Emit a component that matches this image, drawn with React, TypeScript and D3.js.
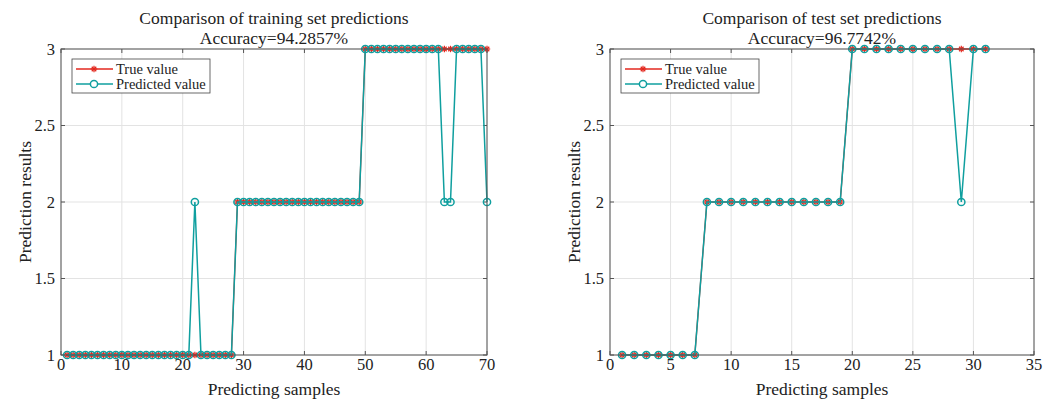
import React from "react";
import * as d3 from "d3";

// training set (70 samples)
const trainTrue = [
  1, 1, 1, 1, 1, 1, 1, 1, 1, 1,
  1, 1, 1, 1, 1, 1, 1, 1, 1, 1,
  1, 1, 1, 1, 1, 1, 1, 1, 2, 2,
  2, 2, 2, 2, 2, 2, 2, 2, 2, 2,
  2, 2, 2, 2, 2, 2, 2, 2, 2, 3,
  3, 3, 3, 3, 3, 3, 3, 3, 3, 3,
  3, 3, 3, 3, 3, 3, 3, 3, 3, 3,
];
const trainPred = [
  1, 1, 1, 1, 1, 1, 1, 1, 1, 1,
  1, 1, 1, 1, 1, 1, 1, 1, 1, 1,
  1, 2, 1, 1, 1, 1, 1, 1, 2, 2,
  2, 2, 2, 2, 2, 2, 2, 2, 2, 2,
  2, 2, 2, 2, 2, 2, 2, 2, 2, 3,
  3, 3, 3, 3, 3, 3, 3, 3, 3, 3,
  3, 3, 2, 2, 3, 3, 3, 3, 3, 2,
];

// test set (31 samples)
const testTrue = [
  1, 1, 1, 1, 1, 1, 1, 2, 2, 2,
  2, 2, 2, 2, 2, 2, 2, 2, 2, 3,
  3, 3, 3, 3, 3, 3, 3, 3, 3, 3,
  3,
];
const testPred = [
  1, 1, 1, 1, 1, 1, 1, 2, 2, 2,
  2, 2, 2, 2, 2, 2, 2, 2, 2, 3,
  3, 3, 3, 3, 3, 3, 3, 3, 2, 3,
  3,
];

const trainXTicks = [0, 10, 20, 30, 40, 50, 60, 70];
const testXTicks = [0, 5, 10, 15, 20, 25, 30, 35];
const yTicks = [1, 1.5, 2, 2.5, 3];

const RED = "#e3281f";
const TEAL = "#0f9f9f";
const FONT = "'Liberation Serif', 'Times New Roman', serif";

type PanelProps = {
  left: number;
  right: number;
  xMax: number;
  xTicks: number[];
  trueVals: number[];
  predVals: number[];
  title: string;
  accuracy: string;
};

const top = 49;
const bottom = 355;

function Star({ x, y, r }: { x: number; y: number; r: number }) {
  const d = r * 0.707;
  return (
    <g stroke={RED} strokeWidth={1.2}>
      <line x1={x - r} x2={x + r} y1={y} y2={y} />
      <line x1={x} x2={x} y1={y - r} y2={y + r} />
      <line x1={x - d} x2={x + d} y1={y - d} y2={y + d} />
      <line x1={x - d} x2={x + d} y1={y + d} y2={y - d} />
    </g>
  );
}

function Panel({ left, right, xMax, xTicks, trueVals, predVals, title, accuracy }: PanelProps) {
  const x = d3.scaleLinear().domain([0, xMax]).range([left, right]);
  const y = d3.scaleLinear().domain([1, 3]).range([bottom, top]);

  const line = d3
    .line<number>()
    .x((_, i) => x(i + 1))
    .y((d) => y(d));

  const cx = (left + right) / 2;
  const lgX = left + 11;
  const lgY = top + 10;

  return (
    <g fontFamily={FONT} fill="#222">
      {/* grid */}
      {xTicks.map((t) => (
        <line key={"gx" + t} x1={x(t)} x2={x(t)} y1={top} y2={bottom} stroke="#e3e3e3" />
      ))}
      {yTicks.map((t) => (
        <line key={"gy" + t} x1={left} x2={right} y1={y(t)} y2={y(t)} stroke="#e3e3e3" />
      ))}

      {/* ticks */}
      {xTicks.map((t) => (
        <g key={"tx" + t}>
          <line x1={x(t)} x2={x(t)} y1={bottom} y2={bottom - 4} stroke="#555" />
          <line x1={x(t)} x2={x(t)} y1={top} y2={top + 4} stroke="#555" />
          <text x={x(t)} y={370} textAnchor="middle" fontSize={16.5}>
            {t}
          </text>
        </g>
      ))}
      {yTicks.map((t) => (
        <g key={"ty" + t}>
          <line x1={left} x2={left + 4} y1={y(t)} y2={y(t)} stroke="#555" />
          <line x1={right} x2={right - 4} y1={y(t)} y2={y(t)} stroke="#555" />
          <text x={left - 6} y={y(t) + 5.5} textAnchor="end" fontSize={16.5}>
            {t}
          </text>
        </g>
      ))}

      {/* series */}
      <path d={line(trueVals) || ""} fill="none" stroke={RED} strokeWidth={1.3} />
      {trueVals.map((v, i) => (
        <Star key={"s" + i} x={x(i + 1)} y={y(v)} r={3.2} />
      ))}
      <path d={line(predVals) || ""} fill="none" stroke={TEAL} strokeWidth={1.5} />
      {predVals.map((v, i) => (
        <circle key={"c" + i} cx={x(i + 1)} cy={y(v)} r={3.6} fill="none" stroke={TEAL} strokeWidth={1.5} />
      ))}

      {/* box */}
      <rect x={left} y={top} width={right - left} height={bottom - top} fill="none" stroke="#555" />

      {/* legend */}
      <rect x={lgX} y={lgY} width={138} height={34} fill="#fff" stroke="#444" strokeWidth={0.8} />
      <line x1={lgX + 4} x2={lgX + 41} y1={lgY + 10} y2={lgY + 10} stroke={RED} strokeWidth={1.3} />
      <Star x={lgX + 22} y={lgY + 10} r={3.2} />
      <text x={lgX + 44} y={lgY + 15} fontSize={14.5}>
        True value
      </text>
      <line x1={lgX + 4} x2={lgX + 41} y1={lgY + 25} y2={lgY + 25} stroke={TEAL} strokeWidth={1.5} />
      <circle cx={lgX + 22} cy={lgY + 25} r={3.6} fill="#fff" stroke={TEAL} strokeWidth={1.5} />
      <text x={lgX + 44} y={lgY + 30} fontSize={14.5}>
        Predicted value
      </text>

      {/* titles and labels */}
      <text x={cx} y={24} textAnchor="middle" fontSize={17.5}>
        {title}
      </text>
      <text x={cx} y={44} textAnchor="middle" fontSize={17.5}>
        {accuracy}
      </text>
      <text x={cx} y={395} textAnchor="middle" fontSize={17.5}>
        Predicting samples
      </text>
      <text
        transform={`translate(${left - 30},${(top + bottom) / 2}) rotate(-90)`}
        textAnchor="middle"
        fontSize={17.5}
      >
        Prediction results
      </text>
    </g>
  );
}

export default function App() {
  return (
    <svg
      width={1055}
      height={402}
      style={{ position: "absolute", left: 0, top: 0, background: "#fff" }}
    >
      <Panel
        left={61}
        right={487}
        xMax={70}
        xTicks={trainXTicks}
        trueVals={trainTrue}
        predVals={trainPred}
        title="Comparison of training set predictions"
        accuracy="Accuracy=94.2857%"
      />
      <Panel
        left={610}
        right={1034}
        xMax={35}
        xTicks={testXTicks}
        trueVals={testTrue}
        predVals={testPred}
        title="Comparison of test set predictions"
        accuracy="Accuracy=96.7742%"
      />
    </svg>
  );
}
